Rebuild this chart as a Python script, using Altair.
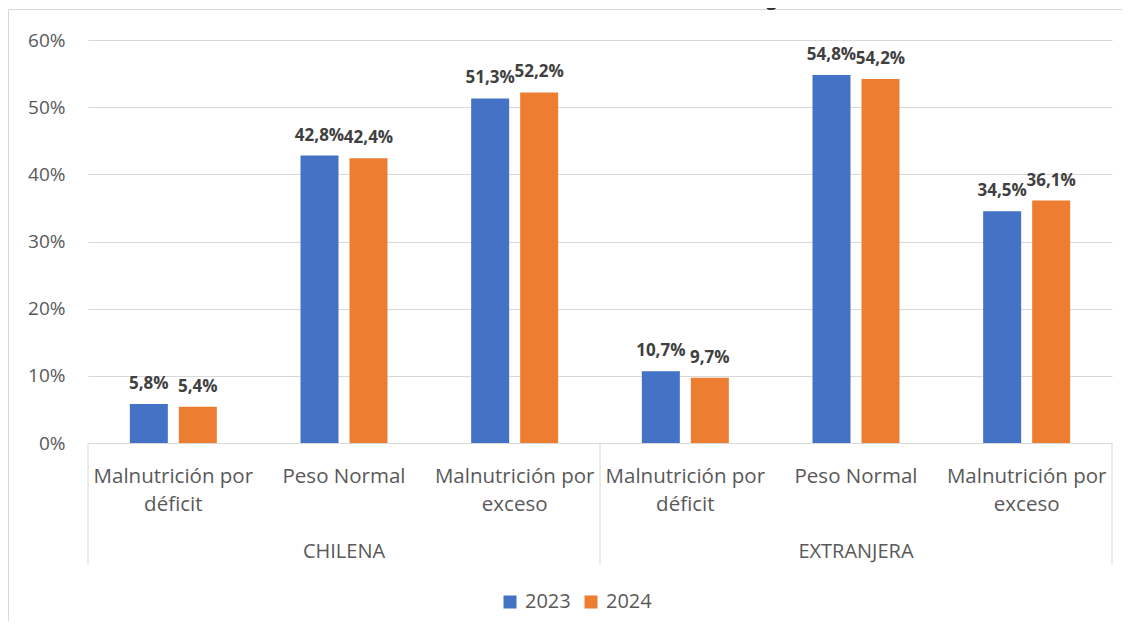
import altair as alt
import pandas as pd

title_text = "Gráfico 14. Variación estado nutricional 2023-2024 según nacionalidad"
nationalities = ["CHILENA", "EXTRANJERA"]
categories = ["Malnutrición por|déficit", "Peso Normal", "Malnutrición por|exceso"]
years = ["2023", "2024"]
values_2023 = [5.8, 42.8, 51.3, 10.7, 54.8, 34.5]
values_2024 = [5.4, 42.4, 52.2, 9.7, 54.2, 36.1]
y_ticks = [0, 10, 20, 30, 40, 50, 60]
colors = ["#4472C4", "#ED7D31"]

FONT = "Open Sans"
GRAY = "#595959"
LINE = "#d9d9d9"

keys = []
for ni, nat in enumerate(nationalities):
    for ci, cat in enumerate(categories):
        keys.append(f"{ni * 3 + ci}|{cat}")

rows = []
for i, k in enumerate(keys):
    for yr, vals in zip(years, [values_2023, values_2024]):
        v = vals[i]
        rows.append({"key": k, "year": yr, "value": v,
                     "label": f"{v:.1f}%".replace(".", ",")})
df = pd.DataFrame(rows)

groups_df = pd.DataFrame({"key": [keys[1], keys[4]], "group": nationalities})
one = pd.DataFrame({"a": [0]})

x_scale = alt.Scale(domain=keys, paddingInner=0, paddingOuter=0)
x_axis = alt.Axis(
    title=None, labelExpr="slice(split(datum.label, '|'), 1)", labelAngle=0,
    labelFont=FONT, labelFontSize=20.5, labelColor=GRAY, labelPadding=23,
    labelLineHeight=28, labelLimit=260, labelOverlap=False, ticks=False,
    domainColor=LINE, domainWidth=1, grid=False,
)
x_enc = alt.X("key:N", scale=x_scale, axis=x_axis, sort=keys)
xoff = alt.XOffset("year:N", scale=alt.Scale(domain=years, paddingInner=0.2245, paddingOuter=0.8537))
y_enc = alt.Y(
    "value:Q",
    scale=alt.Scale(domain=[0, 60], nice=False),
    axis=alt.Axis(
        title=None, values=y_ticks, labelExpr="datum.value + '%'", domain=False,
        ticks=False, gridColor=LINE, gridWidth=1, labelFont=FONT,
        labelFontSize=19, labelColor=GRAY, labelPadding=23,
    ),
)

bars = alt.Chart(df).mark_bar().encode(
    x=x_enc, xOffset=xoff, y=y_enc,
    color=alt.Color(
        "year:N", scale=alt.Scale(domain=years, range=colors),
        legend=alt.Legend(
            title=None, orient="none", legendX=412, legendY=552,
            direction="horizontal", symbolType="square", symbolSize=169,
            symbolStrokeWidth=0, labelFont=FONT, labelFontSize=20,
            labelColor=GRAY, labelOffset=5, columnPadding=10, padding=0,
        ),
    ),
)

labels = alt.Chart(df).mark_text(
    font=FONT, fontSize=17, fontWeight="bold", color="#404040",
    baseline="alphabetic", dy=-15,
).encode(x=x_enc, xOffset=xoff, y=y_enc, text="label:N")

group_labels = alt.Chart(groups_df).mark_text(
    font=FONT, fontSize=20, color=GRAY, baseline="alphabetic",
).encode(x=x_enc, y=alt.value(518), text="group:N")

separators = alt.layer(*[
    alt.Chart(one).mark_rule(color=LINE, strokeWidth=1).encode(
        x=alt.value(xv), y=alt.value(403), y2=alt.value(525))
    for xv in [0, 512, 1024]
])

frame = alt.Chart(one).mark_rect(
    fillOpacity=0, stroke=LINE, strokeWidth=1
).encode(x=alt.value(-79.5), x2=alt.value(1100), y=alt.value(-30.5), y2=alt.value(700))

title = alt.Chart(one).mark_text(
    font=FONT, fontSize=18, fontWeight="bold", color="#262626",
    baseline="alphabetic",
).encode(x=alt.value(520), y=alt.value(-34), text=alt.value(title_text))

chart = alt.layer(frame, bars, labels, group_labels, separators, title).properties(
    width=1024, height=403,
    padding={"left": 80, "top": 32, "right": 10, "bottom": 178},
    autosize=alt.AutoSizeParams(type="none"),
).configure_view(stroke=None)

chart.save("out.html", embed_options={"renderer": "svg", "actions": False})
